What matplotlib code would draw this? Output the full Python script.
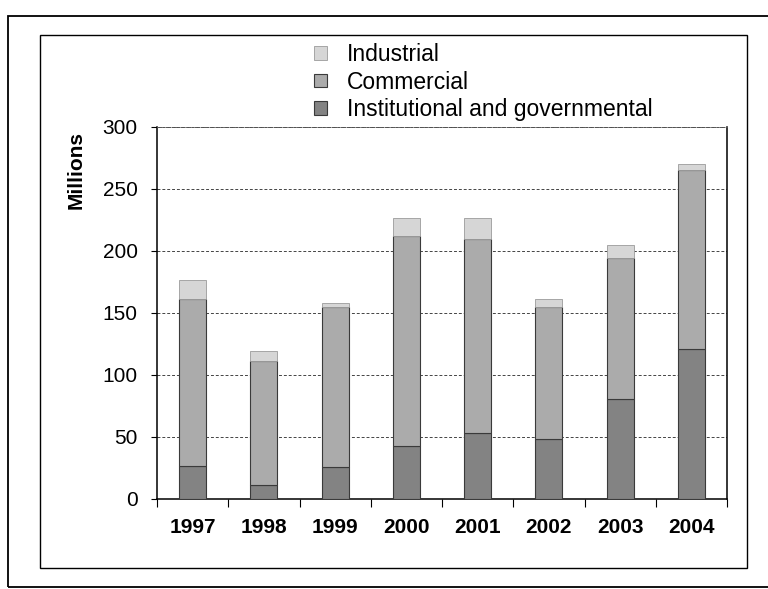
import matplotlib
matplotlib.use('Agg')
from matplotlib import pyplot as plt
from matplotlib.patches import Rectangle
import numpy as np

plt.rcParams['font.family'] = ['Liberation Sans', 'DejaVu Sans']

years = ['1997', '1998', '1999', '2000', '2001', '2002', '2003', '2004']
institutional = [27, 11, 26, 43, 53, 48, 81, 121]
commercial = [134, 100, 129, 169, 157, 107, 113, 144]
industrial = [16, 8, 3, 15, 17, 6, 11, 5]

colors = {'Industrial': '#d6d6d6',
          'Commercial': '#ababab',
          'Institutional and governmental': '#838383'}

fig = plt.figure(figsize=(7.68, 5.89), dpi=100)

# page frames around the chart
fig.patches.append(Rectangle((8/768, 1 - 587/589), 1.2, (587-16)/589,
                             transform=fig.transFigure, fill=False,
                             edgecolor='black', linewidth=1.3))
fig.patches.append(Rectangle((40/768, 1 - 568/589), (747-40)/768, (568-35)/589,
                             transform=fig.transFigure, fill=False,
                             edgecolor='black', linewidth=1.0))

ax = fig.add_axes([157/768, 1 - 499/589, 570/768, 372/589])

x = np.arange(len(years))
width = 0.38
inst = np.array(institutional)
comm = np.array(commercial)
ind = np.array(industrial)

b1 = ax.bar(x, inst, width, color=colors['Institutional and governmental'],
            edgecolor='#3a3a3a', linewidth=0.8, zorder=3)
b2 = ax.bar(x, comm, width, bottom=inst, color=colors['Commercial'],
            edgecolor='#3a3a3a', linewidth=0.8, zorder=3)
b3 = ax.bar(x, ind, width, bottom=inst + comm, color=colors['Industrial'],
            edgecolor='#9a9a9a', linewidth=0.6, zorder=3)

ax.set_xlim(-0.5, len(years) - 0.5)
ax.set_ylim(0, 300)
ax.set_yticks(range(0, 301, 50))
ax.tick_params(axis='y', labelsize=15, length=4, width=0.8, pad=10, direction='out')
ax.set_xticks(x)
ax.set_xticklabels(years, fontsize=15, fontweight='bold')
ax.tick_params(axis='x', length=0, pad=14)
ax.set_xticks(np.arange(-0.5, len(years)), minor=True)
ax.tick_params(axis='x', which='minor', length=6, width=0.8, direction='out')

ax.yaxis.grid(True, color='#444444', linestyle=(0, (3, 2)), linewidth=0.7, zorder=0)
ax.spines['top'].set_linestyle((0, (1.5, 1.5)))
ax.spines['top'].set_color('#555555')
ax.spines['top'].set_linewidth(0.7)
for s in ['left', 'bottom', 'right']:
    ax.spines[s].set_linewidth(1.1)

fig.text(76/768, 1 - 170/589, 'Millions', rotation=90, ha='center', va='center',
         fontsize=15, fontweight='bold')

fig.legend([b3, b2, b1], ['Industrial', 'Commercial', 'Institutional and governmental'],
           loc='upper left', bbox_to_anchor=(298/768, 1 - 27/589),
           frameon=False, fontsize=16.5, handlelength=0.55, handleheight=0.55,
           handletextpad=0.9, labelspacing=0.2, borderpad=0.2)

plt.savefig('out.png', dpi=100)
